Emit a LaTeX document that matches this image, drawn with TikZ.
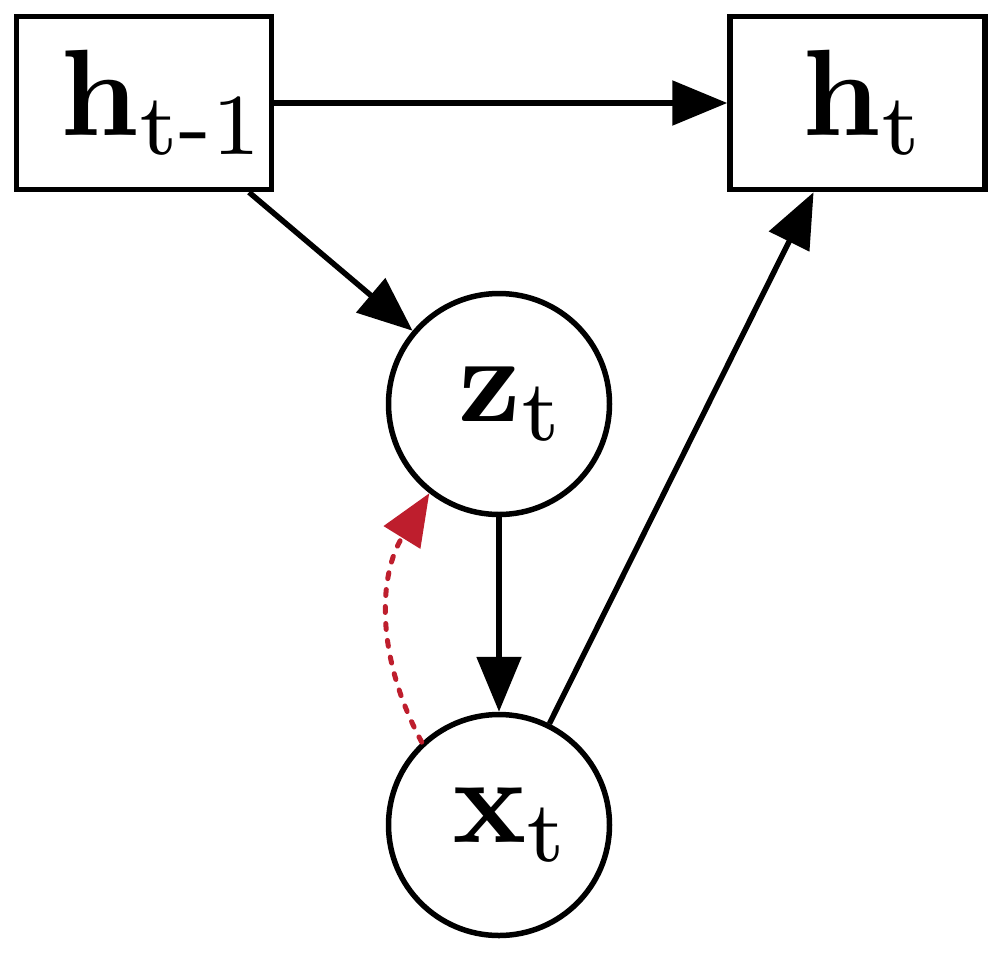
\documentclass[tikz,border=0pt]{standalone}
\usepackage{fontspec}
\newfontfamily\mainbf{lmroman10-bold.otf}
\newfontfamily\subrm{lmroman7-regular.otf}
\usetikzlibrary{arrows.meta,positioning}
\definecolor{myred}{RGB}{190,30,45}
\newcommand\varlbl[3][14pt]{\hspace*{#1}{\mainbf #2}\raisebox{-19pt}{\fontsize{87}{100}\subrm #3}}
\tikzset{
  box/.style={draw, line width=5.5pt, minimum width=255pt, minimum height=173pt, inner sep=0pt},
  var/.style={draw, circle, line width=5.5pt, minimum size=221pt, inner sep=0pt},
  conn/.style={line width=5.5pt, -{Triangle[length=55pt,width=44pt]}},
  infer/.style={line width=5pt, myred, dash pattern=on 6pt off 11pt, line cap=round, -{Triangle[length=52pt,width=42pt]}},
}
\begin{document}
\begin{tikzpicture}[x=1pt,y=-1pt]
\useasboundingbox (0,0) rectangle (1000,954);
\fontsize{123}{140}\selectfont
\node[box] (hp) at (144,103) {\varlbl[34pt]{h}{t-1}};
\node[box] (h) at (857.5,103) {\varlbl[8pt]{h}{t}};
\node[var] (z) at (499,404) {\raisebox{8pt}{\varlbl[20pt]{z}{t}}};
\node[var] (x) at (499,825) {\varlbl[20pt]{x}{t}};
\draw[conn] (hp) -- (h);
\draw[conn] (hp) -- (z);
\draw[conn] (z) -- (x);
\draw[conn] (x) -- (h);
\draw[infer] (x.133) to[bend left=30] (z.232);
\end{tikzpicture}
\end{document}
